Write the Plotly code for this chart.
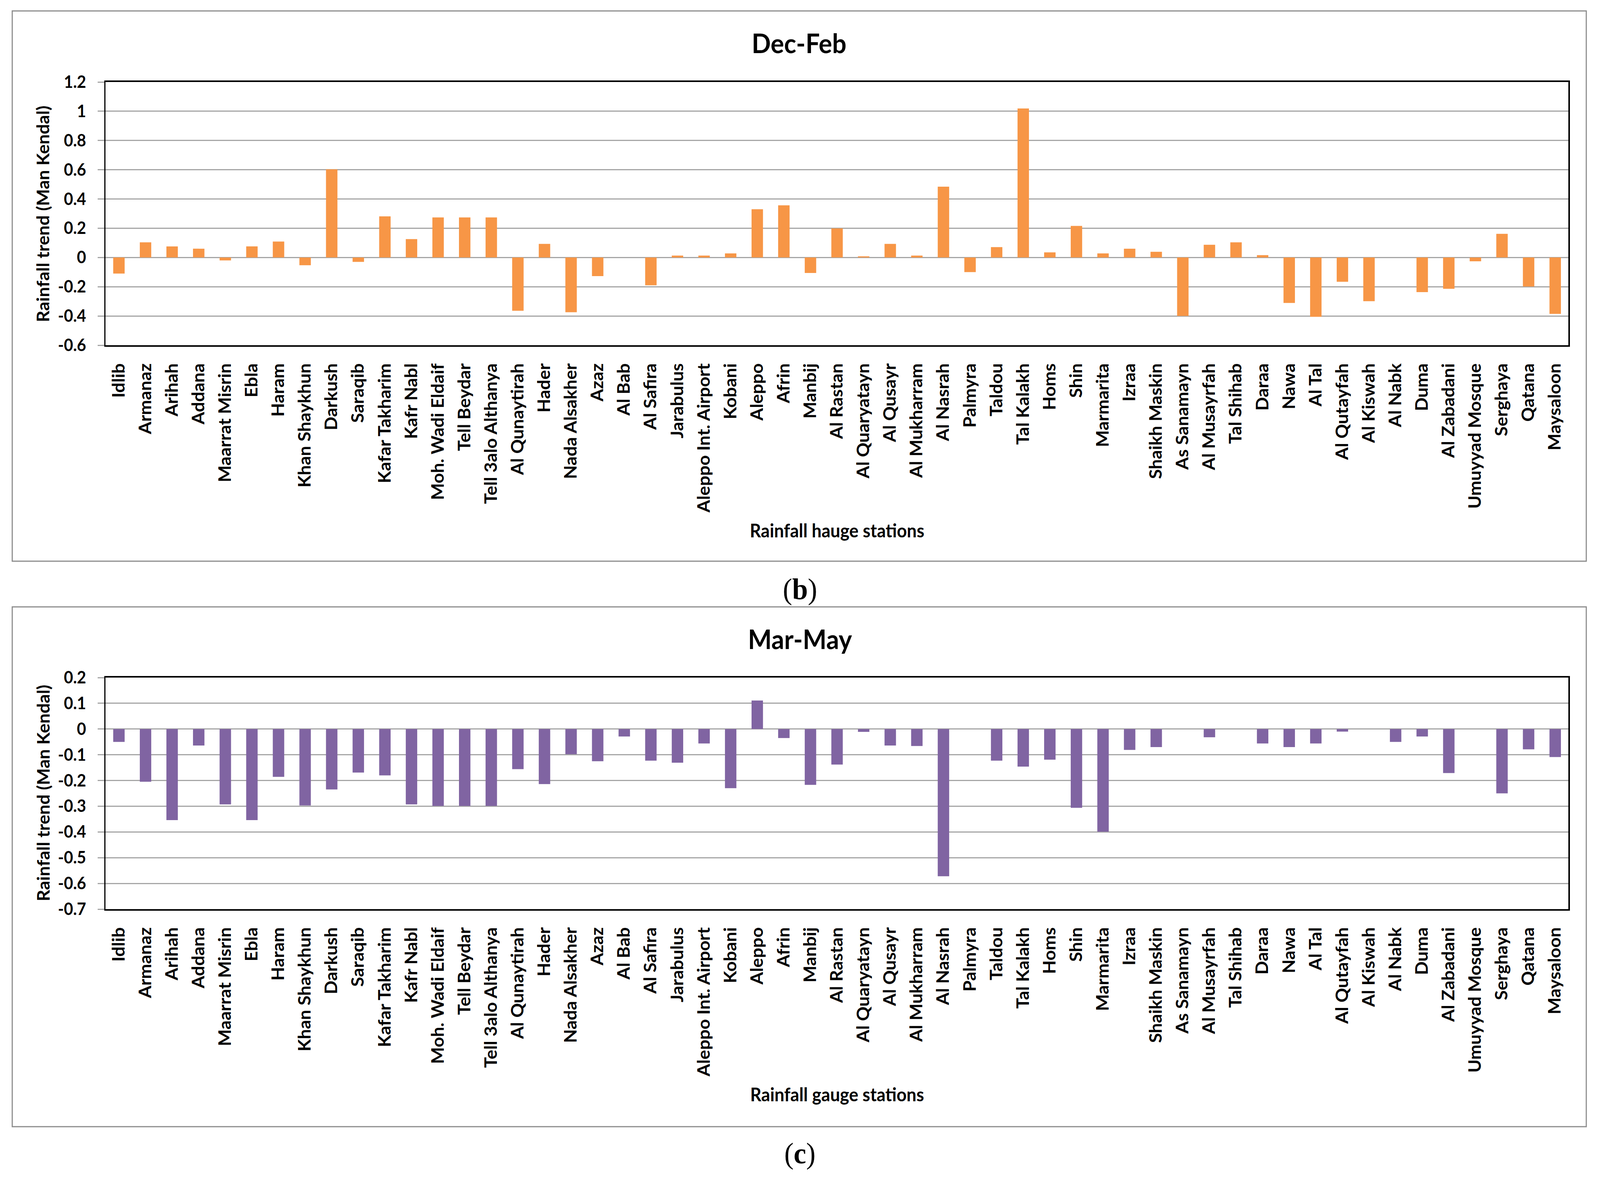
import plotly.graph_objects as go

stations = ["Idlib", "Armanaz", "Arihah", "Addana", "Maarrat Misrin", "Ebla", "Haram",
            "Khan Shaykhun", "Darkush", "Saraqib", "Kafar Takharim", "Kafr Nabl",
            "Moh. Wadi Eldaif", "Tell Beydar", "Tell 3alo Althanya", "Al Qunaytirah",
            "Hader", "Nada Alsakher", "Azaz", "Al Bab", "Al Safira", "Jarabulus",
            "Aleppo Int. Airport", "Kobani", "Aleppo", "Afrin", "Manbij", "Al Rastan",
            "Al Quaryatayn", "Al Qusayr", "Al Mukharram", "Al Nasrah", "Palmyra", "Taldou",
            "Tal Kalakh", "Homs", "Shin", "Marmarita", "Izraa", "Shaikh Maskin",
            "As Sanamayn", "Al Musayrfah", "Tal Shihab", "Daraa", "Nawa", "Al Tal",
            "Al Qutayfah", "Al Kiswah", "Al Nabk", "Duma", "Al Zabadani", "Umuyyad Mosque",
            "Serghaya", "Qatana", "Maysaloon"]

dec_feb = [-0.11, 0.104, 0.076, 0.06, -0.02, 0.076, 0.109, -0.053, 0.603, -0.03,
           0.281, 0.126, 0.274, 0.274, 0.274, -0.364, 0.093, -0.374, -0.127, 0.0,
           -0.19, 0.013, 0.013, 0.028, 0.33, 0.357, -0.106, 0.199, 0.008, 0.093,
           0.013, 0.484, -0.10, 0.071, 1.019, 0.035, 0.216, 0.028, 0.06, 0.039,
           -0.40, 0.087, 0.104, 0.016, -0.311, -0.406, -0.166, -0.299, 0.0, -0.237,
           -0.214, -0.026, 0.162, -0.199, -0.386]

mar_may = [-0.05, -0.205, -0.354, -0.064, -0.293, -0.354, -0.186, -0.297, -0.235, -0.169,
           -0.18, -0.293, -0.299, -0.299, -0.299, -0.156, -0.214, -0.098, -0.125, -0.029,
           -0.123, -0.131, -0.056, -0.23, 0.111, -0.035, -0.217, -0.138, -0.011, -0.064,
           -0.066, -0.572, 0.0, -0.123, -0.146, -0.119, -0.306, -0.399, -0.081, -0.07,
           0.0, -0.032, 0.0, -0.056, -0.07, -0.056, -0.01, 0.0, -0.05, -0.029,
           -0.171, 0.0, -0.25, -0.079, -0.109]

dec_feb_tickvals = [-0.6, -0.4, -0.2, 0, 0.2, 0.4, 0.6, 0.8, 1.0, 1.2]
dec_feb_ticktext = ["-0.6", "-0.4", "-0.2", "0", "0.2", "0.4", "0.6", "0.8", "1", "1.2"]
mar_may_tickvals = [-0.7, -0.6, -0.5, -0.4, -0.3, -0.2, -0.1, 0, 0.1, 0.2]
mar_may_ticktext = ["-0.7", "-0.6", "-0.5", "-0.4", "-0.3", "-0.2", "-0.1", "0", "0.1", "0.2"]

W, H = 4317, 3019
FONT = "Lato, Carlito, 'Open Sans', sans-serif"
GRID = "#a6a6a6"


def fx(px):
    return px / W


def fy(py):
    return 1 - py / H


fig = go.Figure()
fig.add_trace(go.Bar(x=stations, y=dec_feb, marker=dict(color="#F79646", line=dict(width=0)),
                     xaxis="x", yaxis="y", showlegend=False))
fig.add_trace(go.Bar(x=stations, y=mar_may, marker=dict(color="#8064A2", line=dict(width=0)),
                     xaxis="x2", yaxis="y2", showlegend=False))

xcommon = dict(type="category", tickangle=-90, showgrid=False, ticks="",
               tickfont=dict(family=FONT, size=46, color="black", weight="bold"),
               showline=True, linecolor="black", linewidth=4, mirror=True,
               ticklabelstandoff=24, automargin=False, zeroline=False)
ycommon = dict(showgrid=True, gridcolor=GRID, gridwidth=3, ticks="outside", ticklen=18,
               tickcolor=GRID, tickwidth=3, showline=True, linecolor="black", linewidth=4,
               mirror=True, zeroline=False, automargin=False, ticklabelstandoff=22,
               tickfont=dict(family=FONT, size=43, color="black", weight="bold"))

fig.update_layout(
    width=W, height=H, template="none",
    paper_bgcolor="white", plot_bgcolor="white",
    margin=dict(l=0, r=0, t=0, b=0),
    bargap=0.57,
    xaxis=dict(domain=[fx(285), fx(4232)], anchor="y", **xcommon),
    yaxis=dict(domain=[fy(884), fy(210)], anchor="x", range=[-0.6, 1.2],
               tickvals=dec_feb_tickvals, ticktext=dec_feb_ticktext, **ycommon),
    xaxis2=dict(domain=[fx(285), fx(4232)], anchor="y2", **xcommon),
    yaxis2=dict(domain=[fy(2328), fy(1735)], anchor="x2", range=[-0.7, 0.2],
                tickvals=mar_may_tickvals, ticktext=mar_may_ticktext, **ycommon),
)

# panel frames
for y0, y1 in [(28, 1437), (1554, 2885)]:
    fig.add_shape(type="rect", xref="paper", yref="paper", x0=fx(33), x1=fx(4280),
                  y0=fy(y0), y1=fy(y1), line=dict(color="#8c8c8c", width=3), layer="below")

ann = []
title_font = dict(family=FONT, size=68, color="black", weight="bold")
ytitle_font = dict(family=FONT, size=46, color="black", weight="bold")
xtitle_font = dict(family=FONT, size=47, color="black", weight="bold")
label_font = dict(family="'Liberation Serif', 'Times New Roman', serif", size=76, color="black")

ann.append(dict(text="Dec-Feb", x=fx(2156), y=fy(109), font=title_font))
ann.append(dict(text="Mar-May", x=fx(2158), y=fy(1635), font=title_font))
ann.append(dict(text="Rainfall trend (Man Kendal)", x=fx(116), y=fy(548), textangle=-90, font=ytitle_font))
ann.append(dict(text="Rainfall trend (Man Kendal)", x=fx(116), y=fy(2031), textangle=-90, font=ytitle_font))
ann.append(dict(text="Rainfall hauge stations", x=fx(2258), y=fy(1358), font=xtitle_font))
ann.append(dict(text="Rainfall gauge stations", x=fx(2258), y=fy(2802), font=xtitle_font))
ann.append(dict(text="(<b>b</b>)", x=fx(2158), y=fy(1508), font=label_font))
ann.append(dict(text="(<b>c</b>)", x=fx(2158), y=fy(2953), font=label_font))

for a in ann:
    a.update(xref="paper", yref="paper", showarrow=False, xanchor="center", yanchor="middle")
    fig.add_annotation(**a)

post = """
document.documentElement.style.margin='0';
document.body.style.margin='0';
document.body.style.overflow='hidden';
var d = document.getElementById('{plot_id}');
var sx = window.innerWidth / 4317, sy = window.innerHeight / 3019;
if (sx > 0 && sy > 0 && (Math.abs(sx - 1) > 0.001 || Math.abs(sy - 1) > 0.001)) {
  d.style.transformOrigin = '0 0';
  d.style.transform = 'scale(' + sx + ',' + sy + ')';
}
"""

fig.write_html("out.html", post_script=post, config={"displayModeBar": False})
